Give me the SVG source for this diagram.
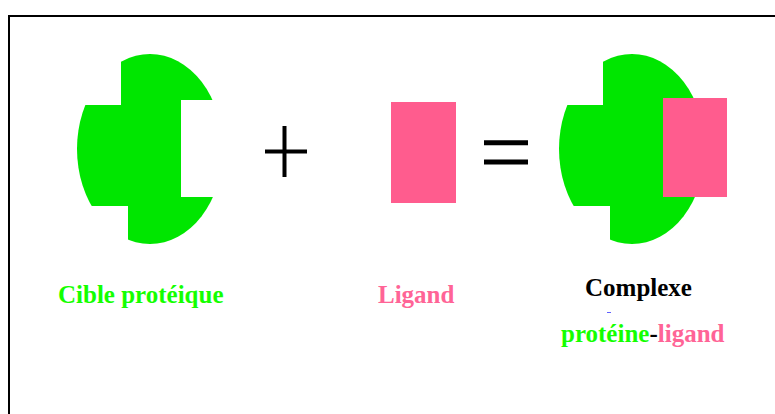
<svg xmlns="http://www.w3.org/2000/svg" width="775" height="414" viewBox="0 0 775 414">
  <style>
    .prot { fill: #00e600; }
    .lig { fill: #ff5c8e; }
    .sym { stroke: #000; fill: none; }
    .lbl { font-family: "Liberation Serif", "Times New Roman", serif; font-weight: bold; font-size: 25px; }
    .g { fill: #14ff00; }
    .p { fill: #ff6496; }
    .k { fill: #000; }
  </style>
  <defs>
    <!-- protein target: ellipse with a binding pocket on the right and two steps on the left -->
    <clipPath id="targetClip">
      <path d="M121,40 H240 V100 H181 V197 H240 V260 H128 V206 H60 V105 H121 Z"/>
    </clipPath>
    <clipPath id="complexClip">
      <path d="M603,40 H740 V260 H610 V206 H540 V105 H603 Z"/>
    </clipPath>
  </defs>
  <rect width="775" height="414" fill="#fff"/>
  <!-- frame -->
  <rect x="9" y="16" width="780" height="420" fill="none" stroke="#000" stroke-width="2"/>

  <g id="cible">
    <ellipse class="prot" cx="150" cy="149" rx="73" ry="95" clip-path="url(#targetClip)"/>
    <text class="lbl g" x="58" y="303">Cible protéique</text>
  </g>

  <g id="plus">
    <path class="sym" stroke-width="4" d="M284.5,126 V177 M265,151.5 H307"/>
  </g>

  <g id="ligand">
    <rect class="lig" x="391" y="102" width="65" height="101"/>
    <text class="lbl p" x="378" y="303">Ligand</text>
  </g>

  <g id="egal">
    <path class="sym" stroke-width="5" d="M484,142.7 H528 M484,162 H528"/>
  </g>

  <g id="complexe">
    <ellipse class="prot" cx="632" cy="149" rx="73" ry="95" clip-path="url(#complexClip)"/>
    <rect class="lig" x="663" y="98" width="64" height="99"/>
    <text class="lbl k" x="585" y="296">Complexe</text>
    <line x1="607" y1="312.5" x2="611" y2="312.5" stroke="#6060ff" stroke-width="1"/>
    <text class="lbl" x="561" y="342"><tspan class="g">protéine</tspan><tspan class="k">-</tspan><tspan class="p">ligand</tspan></text>
  </g>
</svg>
